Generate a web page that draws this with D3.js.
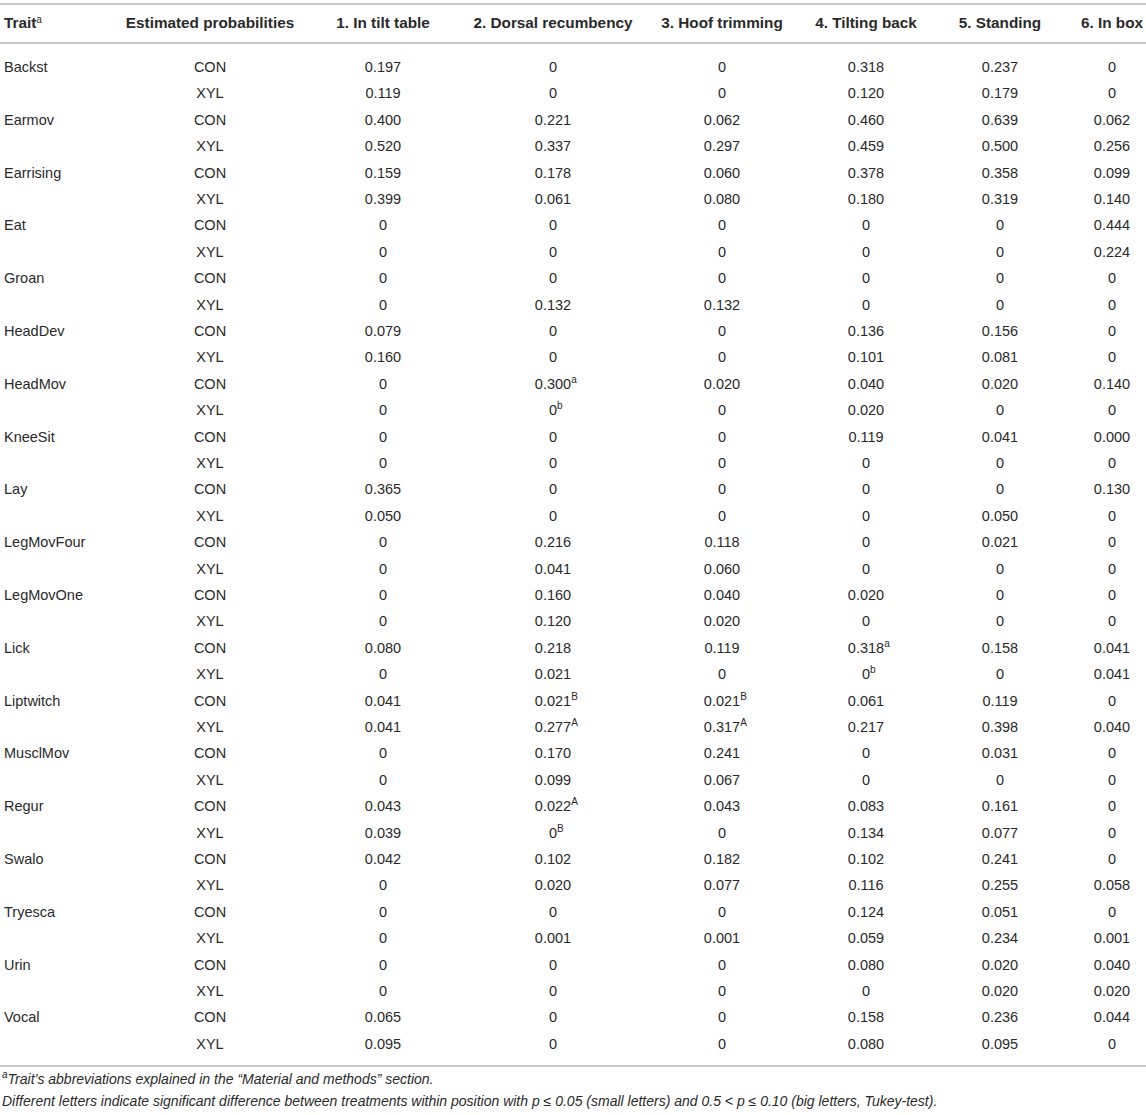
<!DOCTYPE html>
<html>
<head>
<meta charset="utf-8">
<script src="https://cdn.jsdelivr.net/npm/d3@7"></script>
<style>
  body { margin: 0; background: #fff; }
  svg text { font-family: "Liberation Sans", Arial, Helvetica, sans-serif; fill: #2a2a2a; }
</style>
</head>
<body>
<svg id="tbl" width="1146" height="1115"></svg>
<script>
// column headers
var positions = ["1. In tilt table", "2. Dorsal recumbency", "3. Hoof trimming", "4. Tilting back", "5. Standing", "6. In box"];
var treatments = ["CON", "XYL"];
var traits = ["Backst", "Earmov", "Earrising", "Eat", "Groan", "HeadDev", "HeadMov", "KneeSit", "Lay",
  "LegMovFour", "LegMovOne", "Lick", "Liptwitch", "MusclMov", "Regur", "Swalo", "Tryesca", "Urin", "Vocal"];

// estimated probabilities, one row per trait, one value per position
var conValues = [
  ["0.197", "0", "0", "0.318", "0.237", "0"],
  ["0.400", "0.221", "0.062", "0.460", "0.639", "0.062"],
  ["0.159", "0.178", "0.060", "0.378", "0.358", "0.099"],
  ["0", "0", "0", "0", "0", "0.444"],
  ["0", "0", "0", "0", "0", "0"],
  ["0.079", "0", "0", "0.136", "0.156", "0"],
  ["0", "0.300", "0.020", "0.040", "0.020", "0.140"],
  ["0", "0", "0", "0.119", "0.041", "0.000"],
  ["0.365", "0", "0", "0", "0", "0.130"],
  ["0", "0.216", "0.118", "0", "0.021", "0"],
  ["0", "0.160", "0.040", "0.020", "0", "0"],
  ["0.080", "0.218", "0.119", "0.318", "0.158", "0.041"],
  ["0.041", "0.021", "0.021", "0.061", "0.119", "0"],
  ["0", "0.170", "0.241", "0", "0.031", "0"],
  ["0.043", "0.022", "0.043", "0.083", "0.161", "0"],
  ["0.042", "0.102", "0.182", "0.102", "0.241", "0"],
  ["0", "0", "0", "0.124", "0.051", "0"],
  ["0", "0", "0", "0.080", "0.020", "0.040"],
  ["0.065", "0", "0", "0.158", "0.236", "0.044"]
];
var xylValues = [
  ["0.119", "0", "0", "0.120", "0.179", "0"],
  ["0.520", "0.337", "0.297", "0.459", "0.500", "0.256"],
  ["0.399", "0.061", "0.080", "0.180", "0.319", "0.140"],
  ["0", "0", "0", "0", "0", "0.224"],
  ["0", "0.132", "0.132", "0", "0", "0"],
  ["0.160", "0", "0", "0.101", "0.081", "0"],
  ["0", "0", "0", "0.020", "0", "0"],
  ["0", "0", "0", "0", "0", "0"],
  ["0.050", "0", "0", "0", "0.050", "0"],
  ["0", "0.041", "0.060", "0", "0", "0"],
  ["0", "0.120", "0.020", "0", "0", "0"],
  ["0", "0.021", "0", "0", "0", "0.041"],
  ["0.041", "0.277", "0.317", "0.217", "0.398", "0.040"],
  ["0", "0.099", "0.067", "0", "0", "0"],
  ["0.039", "0", "0", "0.134", "0.077", "0"],
  ["0", "0.020", "0.077", "0.116", "0.255", "0.058"],
  ["0", "0.001", "0.001", "0.059", "0.234", "0.001"],
  ["0", "0", "0", "0", "0.020", "0.020"],
  ["0.095", "0", "0", "0.080", "0.095", "0"]
];
// significance letters: [trait, treatment, position index, letter]
var letters = [
  ["HeadMov", "CON", 1, "a"], ["HeadMov", "XYL", 1, "b"],
  ["Lick", "CON", 3, "a"], ["Lick", "XYL", 3, "b"],
  ["Liptwitch", "CON", 1, "B"], ["Liptwitch", "XYL", 1, "A"],
  ["Liptwitch", "CON", 2, "B"], ["Liptwitch", "XYL", 2, "A"],
  ["Regur", "CON", 1, "A"], ["Regur", "XYL", 1, "B"]
];
var footnotes = [
  "Trait\u2019s abbreviations explained in the \u201cMaterial and methods\u201d section.",
  "Different letters indicate significant difference between treatments within position with p \u2264 0.05 (small letters) and 0.5 < p \u2264 0.10 (big letters, Tukey-test)."
];

var svg = d3.select("#tbl");
var W = 1146;
var headerY = 23, firstRow = 67, rowH = 26.4;

// column centres
var colX = d3.scaleOrdinal()
  .domain(["prob"].concat(positions))
  .range([210, 383, 553, 722, 866, 1000, 1112]);

// rows: every trait gets one CON and one XYL row
var rows = [];
traits.forEach(function(t, i) {
  treatments.forEach(function(tr, j) {
    rows.push({ trait: t, treatment: tr, first: j == 0,
      values: (j == 0 ? conValues : xylValues)[i] });
  });
});
var y = d3.scaleLinear().domain([0, rows.length - 1])
  .range([firstRow, firstRow + rowH * (rows.length - 1)]);

function letterFor(trait, treatment, p) {
  var f = letters.find(function(l) { return l[0] == trait && l[1] == treatment && l[2] == p; });
  return f ? f[3] : null;
}

// rules
var ruleY = [4, 43, 1066];
svg.selectAll("line.rule").data(ruleY).enter().append("line")
  .attr("class", "rule")
  .attr("x1", 0).attr("x2", W)
  .attr("y1", function(d) { return d; }).attr("y2", function(d) { return d; })
  .attr("stroke", "#c8c8c8").attr("stroke-width", 2);

// header
var head = svg.append("g").attr("font-weight", "bold").attr("font-size", 15.3);
var trh = head.append("text").attr("x", 4).attr("y", headerY).attr("dy", "0.35em");
trh.append("tspan").text("Trait");
trh.append("tspan").attr("font-size", 10).attr("font-weight", "normal").attr("dy", "-0.5em").text("a");
head.append("text").attr("x", colX("prob")).attr("y", headerY).attr("dy", "0.35em")
  .attr("text-anchor", "middle").text("Estimated probabilities");
head.selectAll("text.pos").data(positions).enter().append("text")
  .attr("class", "pos")
  .attr("x", function(d) { return colX(d); })
  .attr("y", headerY).attr("dy", "0.35em")
  .attr("text-anchor", "middle")
  .text(function(d) { return d; });

// body
var body = svg.append("g").attr("font-size", 14.5);
var row = body.selectAll("g.row").data(rows).enter().append("g")
  .attr("class", "row")
  .attr("transform", function(d, i) { return "translate(0," + y(i) + ")"; });

row.filter(function(d) { return d.first; }).append("text")
  .attr("x", 4).attr("dy", "0.35em")
  .text(function(d) { return d.trait; });

row.append("text")
  .attr("x", colX("prob")).attr("dy", "0.35em").attr("text-anchor", "middle")
  .text(function(d) { return d.treatment; });

row.each(function(d) {
  var g = d3.select(this);
  d.values.forEach(function(v, p) {
    var letter = letterFor(d.trait, d.treatment, p);
    var t = g.append("text")
      .attr("x", colX(positions[p])).attr("dy", "0.35em").attr("text-anchor", "middle");
    if (letter) {
      // number stays centred like the others, letter hangs off to the right
      t.attr("text-anchor", "start");
      t.append("tspan").text(v);
      t.append("tspan").attr("font-size", 10).attr("dy", "-0.6em").text(letter);
      var numW = t.select("tspan").node().getComputedTextLength();
      t.attr("x", colX(positions[p]) - numW / 2);
    } else {
      t.text(v);
    }
  });
});

// footnotes
var foot = svg.append("g").attr("font-size", 14).attr("font-style", "italic");
var f1 = foot.append("text").attr("x", 2).attr("y", 1082).attr("dy", "0.35em");
f1.append("tspan").attr("font-size", 10).attr("dy", "-0.45em").text("a");
f1.append("tspan").attr("dy", "0.45em").text(footnotes[0]);
foot.append("text").attr("x", 2).attr("y", 1101).attr("dy", "0.35em").text(footnotes[1]);
</script>
</body>
</html>
